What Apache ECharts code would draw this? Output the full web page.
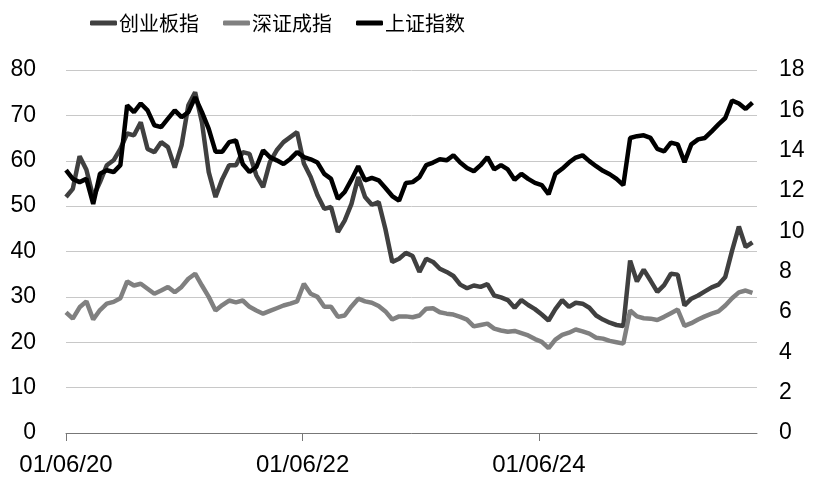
<!DOCTYPE html>
<html><head><meta charset="utf-8">
<script src="https://cdn.jsdelivr.net/npm/echarts@6/dist/echarts.min.js"></script>
<style>html,body{margin:0;padding:0;background:#fff}#c{width:818px;height:485px}</style>
</head><body><div id="c"></div>
<script>
// sample dates: every 21 days from 2020-01-06
const START = Date.UTC(2020, 0, 6);
const STEP_DAYS = 21;
const AXIS_END_DAY = 2135;
const xTickDays = [0, 731, 1461];
const seriesNames = ['创业板指', '深证成指', '上证指数'];
const leftTicks = {min: 0, max: 80, interval: 10};
const rightTicks = {min: 0, max: 18, interval: 2};

const chinext = [52,53.8,61,58,52,55.3,59,60.1,62.6,66,65.6,68.5,62.6,61.9,64.1,63,58.5,63.4,72.2,75.1,68.5,
  57.5,52,56,59,59,61.9,61.5,56.8,54.2,59.7,62.3,64.1,65.2,66.3,59.4,56.4,52.4,49.4,49.8,44.3,46.8,
  50.5,56.4,52,50.3,50.9,44.9,37.7,38.4,39.7,39,35.5,38.4,37.7,36.2,35.5,34.6,32.7,31.9,32.5,32.2,
  32.8,30.3,29.9,29.3,27.6,29.3,28.2,27.3,26.1,24.8,27.3,29.3,27.8,28.7,28.5,27.6,25.9,25,24.3,23.8,23.6,
  38,33.4,36,33.6,31.1,32.6,35.1,34.9,28.1,29.6,30.3,31.2,32.1,32.7,34.4,40.2,45.5,41,42];
const szComp = [26.6,25.2,27.7,29,25,27.1,28.5,28.9,29.7,33.4,32.5,32.9,31.8,30.7,31.4,32.2,31,32.2,34,35.1,32.5,
  30,27,28.2,29.2,28.8,29.2,27.8,27,26.3,26.9,27.5,28.1,28.5,29,32.9,30.7,30,27.8,27.8,25.6,25.9,
  27.9,29.6,29,28.7,28,26.8,25,25.7,25.7,25.5,25.9,27.4,27.5,26.6,26.3,26.1,25.6,25,23.5,23.8,
  24.1,23,22.6,22.3,22.5,22,21.5,20.7,20.1,18.7,20.6,21.6,22.1,22.8,22.4,21.9,21,20.8,20.3,20,19.7,
  27,25.7,25.3,25.2,24.9,25.6,26.4,27.2,23.6,24.2,25,25.7,26.3,26.8,28.1,29.7,31,31.4,30.9];
const shComp = [13.03,12.6,12.44,12.6,11.36,12.85,13.03,12.94,13.28,16.25,15.91,16.34,16.0,15.26,15.17,15.59,16.0,15.66,15.91,16.65,15.91,
  15.08,13.95,13.95,14.42,14.51,13.34,12.94,13.19,14.02,13.68,13.52,13.34,13.59,13.93,13.68,13.57,13.41,12.85,12.6,11.61,11.95,
  12.56,13.23,12.53,12.65,12.53,12.15,11.75,11.52,12.4,12.44,12.69,13.28,13.41,13.57,13.52,13.77,13.41,13.14,12.98,13.28,
  13.68,13.07,13.28,13.07,12.56,12.85,12.6,12.4,12.29,11.84,12.85,13.1,13.41,13.66,13.77,13.48,13.23,13.0,12.83,12.6,12.29,
  14.63,14.72,14.76,14.63,14.09,13.97,14.4,14.31,13.43,14.31,14.56,14.63,14.96,15.3,15.62,16.49,16.34,16.07,16.38];

const dayOffsets = chinext.map((_, i) => i * STEP_DAYS);
const pair = arr => arr.map((v, i) => [dayOffsets[i], v]);
const pad = n => (n < 10 ? '0' : '') + n;
function fmtDay(v) {
  const d = new Date(START + Math.round(v) * 86400000);
  return pad(d.getUTCMonth() + 1) + '/' + pad(d.getUTCDate()) + '/' + pad(d.getUTCFullYear() % 100);
}

const numFont = "'Liberation Sans', Arial, sans-serif";
const chart = echarts.init(document.getElementById('c'));
chart.setOption({
  animation: false,
  backgroundColor: '#fff',
  grid: {left: 66, right: 61, top: 70, bottom: 52, containLabel: false},
  legend: {
    left: 85, top: 8, itemWidth: 27, itemHeight: 5, itemGap: 24, icon: 'roundRect',
    textStyle: {fontSize: 20, color: '#000', fontFamily: "'Noto Sans CJK SC', sans-serif", padding: [0, 0, 0, -3]},
    data: seriesNames
  },
  xAxis: {
    type: 'value', min: 0, max: AXIS_END_DAY,
    splitLine: {show: false},
    axisLine: {show: true, lineStyle: {color: '#777', width: 1}},
    axisTick: {show: true, customValues: xTickDays, length: 8, lineStyle: {color: '#777'}},
    axisLabel: {customValues: xTickDays, formatter: fmtDay, fontSize: 24, color: '#000', fontFamily: numFont, margin: 20}
  },
  yAxis: [
    {type: 'value', min: leftTicks.min, max: leftTicks.max, interval: leftTicks.interval,
     axisLine: {show: false}, axisTick: {show: false},
     splitLine: {lineStyle: {color: '#c8c8c8', width: 1}},
     axisLabel: {fontSize: 23, color: '#000', fontFamily: numFont, margin: 30}},
    {type: 'value', min: rightTicks.min, max: rightTicks.max, interval: rightTicks.interval, position: 'right',
     axisLine: {show: false}, axisTick: {show: false}, splitLine: {show: false},
     axisLabel: {fontSize: 23, color: '#000', fontFamily: numFont, margin: 22}}
  ],
  series: [
    {name: seriesNames[0], type: 'line', yAxisIndex: 0, data: pair(chinext), showSymbol: false, symbol: 'none',
     lineStyle: {color: '#404040', width: 4.5}, itemStyle: {color: '#404040'}},
    {name: seriesNames[1], type: 'line', yAxisIndex: 0, data: pair(szComp), showSymbol: false, symbol: 'none',
     lineStyle: {color: '#808080', width: 4.5}, itemStyle: {color: '#808080'}},
    {name: seriesNames[2], type: 'line', yAxisIndex: 1, data: pair(shComp), showSymbol: false, symbol: 'none',
     lineStyle: {color: '#000000', width: 4.5}, itemStyle: {color: '#000000'}}
  ]
});
</script></body></html>
